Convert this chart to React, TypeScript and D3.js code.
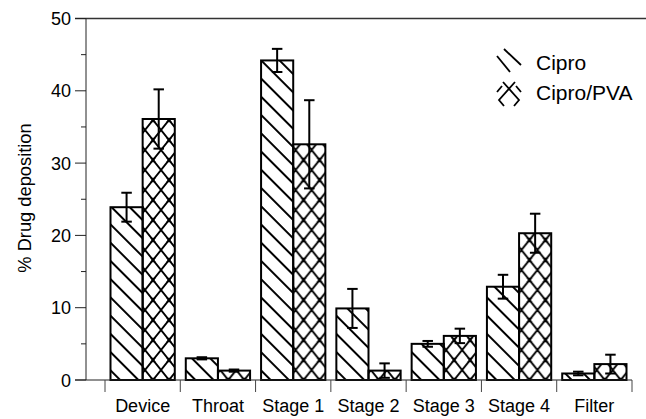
import React from "react";
import * as d3 from "d3";

const categories = ["Device", "Throat", "Stage 1", "Stage 2", "Stage 3", "Stage 4", "Filter"];
const series = ["Cipro", "Cipro/PVA"];
const cipro = [23.9, 3.0, 44.2, 9.9, 5.0, 12.9, 0.9];
const ciproErr = [2.0, 0.15, 1.6, 2.7, 0.4, 1.65, 0.25];
const pva = [36.1, 1.3, 32.6, 1.3, 6.1, 20.3, 2.2];
const pvaErr = [4.1, 0.15, 6.1, 1.0, 1.0, 2.7, 1.3];
const majorTicks = [0, 10, 20, 30, 40, 50];
const minorTicks = [5, 15, 25, 35, 45];

const W = 646;
const H = 419;
const FONT = "'Liberation Sans', Arial, Helvetica, sans-serif";

export default function App() {
  const y = d3.scaleLinear().domain([0, 50]).range([380, 18.5]);
  const x0 = d3.scaleBand<string>().domain(categories).range([105, 632]).padding(0);
  const step = x0.bandwidth();
  const x1 = d3.scaleBand<string>().domain(series).range([5.5, step - 5.5]).padding(0);
  const bw = x1.bandwidth();
  const values = [cipro, pva];
  const errs = [ciproErr, pvaErr];
  const fills = ["url(#hatchCipro)", "url(#hatchPva)"];
  const capW = 10.5;

  const boundaries = categories.map((c) => x0(c) as number).concat([632]);

  return (
    <svg width={W} height={H} style={{ position: "absolute", left: 0, top: 0, background: "#fff" }}>
      <defs>
        <pattern id="hatchCipro" patternUnits="userSpaceOnUse" width={12.9} height={12.9} patternTransform="rotate(-45)">
          <line x1={0} y1={-2} x2={0} y2={15} stroke="#000" strokeWidth={2} />
          <line x1={12.9} y1={-2} x2={12.9} y2={15} stroke="#000" strokeWidth={2} />
        </pattern>
        <pattern id="hatchPva" patternUnits="userSpaceOnUse" width={16} height={20} x={0} y={0}>
          <path d="M0,0 L16,20 M16,0 L0,20" stroke="#000" strokeWidth={1.9} fill="none" />
          <path d="M-2,-2.5 L2,2.5 M14,17.5 L18,22.5 M18,-2.5 L14,2.5 M2,17.5 L-2,22.5" stroke="#000" strokeWidth={1.9} fill="none" />
        </pattern>
      </defs>

      {/* top border line */}
      <line x1={75} x2={646} y1={y(50)} y2={y(50)} stroke="#333" strokeWidth={1.3} />
      {/* y axis */}
      <line x1={86} x2={86} y1={y(50)} y2={y(0)} stroke="#222" strokeWidth={1} />
      {majorTicks.map((t) => (
        <g key={"mj" + t}>
          <line x1={75} x2={86} y1={y(t)} y2={y(t)} stroke="#222" strokeWidth={1} />
          <text x={71} y={y(t) + 6.5} textAnchor="end" fontFamily={FONT} fontSize={18} fill="#000">
            {t}
          </text>
        </g>
      ))}
      {minorTicks.map((t) => (
        <line key={"mn" + t} x1={81} x2={86} y1={y(t)} y2={y(t)} stroke="#222" strokeWidth={1} />
      ))}
      <text
        transform={`translate(31,198) rotate(-90)`}
        textAnchor="middle"
        fontFamily={FONT}
        fontSize={18.3}
        fill="#000"
      >
        % Drug deposition
      </text>

      {/* bars */}
      {categories.map((c, i) => (
        <g key={c} transform={`translate(${x0(c)},0)`}>
          {series.map((s, j) => {
            const v = values[j][i];
            const bx = x1(s) as number;
            return (
              <rect
                key={s}
                x={bx}
                y={y(v)}
                width={bw}
                height={y(0) - y(v)}
                fill={fills[j]}
                stroke="#000"
                strokeWidth={2}
              />
            );
          })}
          {series.map((s, j) => {
            const v = values[j][i];
            const e = errs[j][i];
            const cx = (x1(s) as number) + bw / 2;
            return (
              <g key={"e" + s} stroke="#000" strokeWidth={2}>
                <line x1={cx} x2={cx} y1={y(v - e)} y2={y(v + e)} />
                <line x1={cx - capW / 2} x2={cx + capW / 2} y1={y(v + e)} y2={y(v + e)} />
                <line x1={cx - capW / 2} x2={cx + capW / 2} y1={y(v - e)} y2={y(v - e)} />
              </g>
            );
          })}
          <text x={step / 2} y={411.5} textAnchor="middle" fontFamily={FONT} fontSize={18} fill="#000">
            {c}
          </text>
        </g>
      ))}

      {/* x axis */}
      <line x1={75} x2={632} y1={y(0)} y2={y(0)} stroke="#222" strokeWidth={1.2} />
      {boundaries.map((b, i) => (
        <line key={"xt" + i} x1={b} x2={b} y1={y(0)} y2={y(0) + 12} stroke="#444" strokeWidth={1} />
      ))}

      {/* legend */}
      <g stroke="#000" strokeWidth={1.8} fill="none">
        <line x1={497} y1={56} x2={510} y2={72} />
        <line x1={504} y1={49} x2={521} y2={65} />
      </g>
      <text x={536} y={70} fontFamily={FONT} fontSize={21} fill="#000">
        Cipro
      </text>
      <g stroke="#000" strokeWidth={1.8} fill="none">
        <path d="M503,82 L519,100 L514,106" />
        <path d="M515,82 L499,100 L504,106" />
        <path d="M497,92 L502,86" />
        <path d="M521,92 L516,86" />
      </g>
      <text x={536} y={100} fontFamily={FONT} fontSize={21} fill="#000">
        Cipro/PVA
      </text>
    </svg>
  );
}
